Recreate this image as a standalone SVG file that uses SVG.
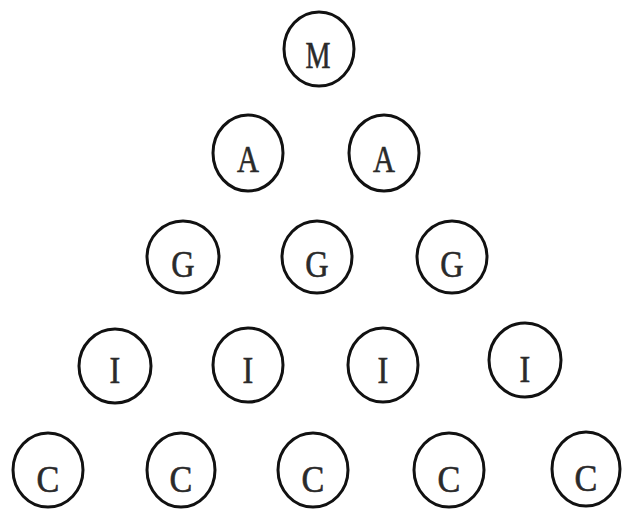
<svg xmlns="http://www.w3.org/2000/svg" width="624" height="509" viewBox="0 0 624 509">
<style>
.n ellipse{fill:none;stroke:#111;stroke-width:3}
.n text{font-family:"Liberation Serif","DejaVu Serif",serif;font-size:38px;fill:#2a2a2a;text-anchor:middle;stroke:#2a2a2a;stroke-width:0.6}
</style>
<rect width="624" height="509" fill="#fff"/>
<g id="connectors"/>
<g id="m1" class="n"><ellipse cx="319" cy="49" rx="35" ry="37"/><text transform="translate(318,68) scale(0.74,1)">M</text></g>
<g id="a1" class="n"><ellipse cx="248" cy="153" rx="35" ry="38"/><text transform="translate(248,172) scale(0.8,1)">A</text></g>
<g id="a2" class="n"><ellipse cx="384" cy="153" rx="35" ry="38"/><text transform="translate(384,172) scale(0.8,1)">A</text></g>
<g id="g1" class="n"><ellipse cx="183" cy="257" rx="36" ry="36"/><text transform="translate(183,277) scale(0.85,1)">G</text></g>
<g id="g2" class="n"><ellipse cx="317" cy="257" rx="35" ry="36"/><text transform="translate(317,277) scale(0.85,1)">G</text></g>
<g id="g3" class="n"><ellipse cx="452" cy="257" rx="35" ry="36"/><text transform="translate(452,277) scale(0.85,1)">G</text></g>
<g id="i1" class="n"><ellipse cx="115" cy="366" rx="36" ry="37"/><text transform="translate(115,383) scale(0.85,1)">I</text></g>
<g id="i2" class="n"><ellipse cx="248" cy="365" rx="35" ry="37"/><text transform="translate(248,383) scale(0.85,1)">I</text></g>
<g id="i3" class="n"><ellipse cx="383" cy="365" rx="35" ry="37"/><text transform="translate(383,383) scale(0.85,1)">I</text></g>
<g id="i4" class="n"><ellipse cx="525" cy="360" rx="36" ry="37"/><text transform="translate(525,382) scale(0.85,1)">I</text></g>
<g id="c1" class="n"><ellipse cx="48" cy="470" rx="35" ry="37"/><text transform="translate(48,492) scale(0.9,1)">C</text></g>
<g id="c2" class="n"><ellipse cx="181" cy="470" rx="34" ry="37"/><text transform="translate(181,492) scale(0.9,1)">C</text></g>
<g id="c3" class="n"><ellipse cx="313" cy="470" rx="35" ry="37"/><text transform="translate(313,492) scale(0.9,1)">C</text></g>
<g id="c4" class="n"><ellipse cx="449" cy="470" rx="35" ry="37"/><text transform="translate(449,492) scale(0.9,1)">C</text></g>
<g id="c5" class="n"><ellipse cx="586" cy="469" rx="34" ry="37"/><text transform="translate(586,491) scale(0.9,1)">C</text></g>
</svg>
